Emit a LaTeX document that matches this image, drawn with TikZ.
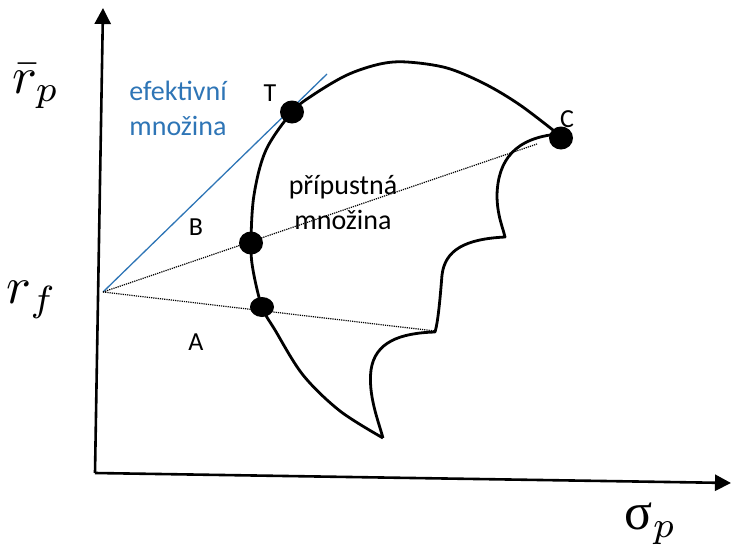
\documentclass[tikz,border=0pt]{standalone}
\usepackage{fontspec}
\setmainfont{Carlito}
\newfontfamily\grk{Liberation Serif}
\usetikzlibrary{arrows.meta,shapes.geometric}
\definecolor{effblue}{RGB}{46,117,182}
\begin{document}
\begin{tikzpicture}[x=1pt,y=-1pt,
  axis/.style={line width=2.6pt, -{Triangle[length=16pt,width=16pt]}},
  bound/.style={line width=2.8pt, line join=round},
  dotline/.style={line width=1.2pt, dash pattern=on 1.2pt off 1pt},
  dotmark/.style={fill=black, ellipse, minimum width=24pt, minimum height=23pt, inner sep=0pt},
  lbl/.style={font=\fontsize{26}{30}\selectfont, inner sep=0pt},
  txt/.style={font=\fontsize{28}{35}\selectfont, align=center, inner sep=0pt},
  mathlbl/.style={font=\normalsize, inner sep=0pt, scale=5.2}]
\useasboundingbox (0,0) rectangle (732,549);
% axes
\coordinate (O) at (95,473);
\coordinate (ytop) at (103,8);
\coordinate (xend) at (731,483);
\draw[axis] (O) -- (ytop);
\draw[axis] (O) -- (xend);
% key points
\coordinate (rf) at (103,292);
\coordinate (bl) at (327,74);
\coordinate (cu) at (537,144);
\coordinate (cl) at (435,331);
% lines from r_f
\draw[effblue, line width=1.3pt] (rf) -- (bl);
\draw[dotline] (rf) -- (cu);
\draw[dotline] (rf) -- (cl);
% boundary of feasible set
\draw[bound] plot[smooth, tension=0.55] coordinates {(383,438) (340,411) (303,375) (275,330) (262,307) (253,270) (251,243) (254,195) (266,150) (292,112) (313,95) (347,75) (380,64) (407,62) (447,68) (485,84) (520,105) (558,134)}
  .. controls (515,138) and (498,160) .. (497,195)
  .. controls (497,215) and (503,228) .. (505,237)
  .. controls (465,239) and (445,250) .. (442,275)
  .. controls (440,300) and (438,322) .. (435,332)
  .. controls (400,333) and (375,342) .. (371,370)
  .. controls (368,395) and (378,420) .. (383,438);
% dots
\node[dotmark] (Tdot) at (292,112) {};
\node[dotmark] (Bdot) at (251,243) {};
\node[dotmark, minimum height=20pt] (Adot) at (262,307) {};
\node[dotmark] (Cdot) at (561,138) {};
% labels
\node[lbl] (Tl) at (270,93) {T};
\node[lbl] (Cl) at (567,119) {C};
\node[lbl] (Bl) at (196,227) {B};
\node[lbl] (Al) at (196,342) {A};
\node[txt, text=effblue] (eff) at (178,108) {efektivní\\množina};
\node[txt] (pri) at (343,203) {přípustná\\množina};
\node[mathlbl] (rp) at (36,86) {$\bar{r}_p$};
\node[mathlbl] (rfl) at (32,300) {$r_f$};
\node[mathlbl] (sp) at (651,524) {{\grk σ}$_p$};
\end{tikzpicture}
\end{document}
